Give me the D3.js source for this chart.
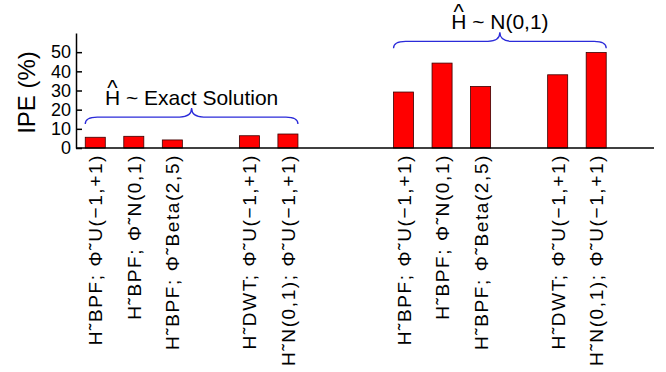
<!DOCTYPE html>
<html>
<head>
<meta charset="utf-8">
<script src="https://cdn.jsdelivr.net/npm/d3@7"></script>
<style>
  html, body { margin: 0; padding: 0; background: #fff; }
  svg { display: block; font-family: "Liberation Sans", Arial, Helvetica, sans-serif; }
</style>
</head>
<body>
<svg id="chart" width="666" height="372"></svg>
<script>
// Category slots along the x axis (empty strings are spacer slots)
const categories = [
  "H˜BPF; Φ˜U(−1,+1)", "H˜BPF; Φ˜N(0,1)", "H˜BPF; Φ˜Beta(2,5)", "",
  "H˜DWT; Φ˜U(−1,+1)", "H˜N(0,1); Φ˜U(−1,+1)", "", "",
  "H˜BPF; Φ˜U(−1,+1)", "H˜BPF; Φ˜N(0,1)", "H˜BPF; Φ˜Beta(2,5)", "",
  "H˜DWT; Φ˜U(−1,+1)", "H˜N(0,1); Φ˜U(−1,+1)", ""
];
// IPE (%) per slot; null for spacer slots
const ipeValues = [5.6, 6.1, 4.2, null, 6.4, 7.3, null, null, 29.2, 44.3, 32.1, null, 38.2, 49.8, null];
const yTicks = [0, 10, 20, 30, 40, 50];
// Group annotations: first and last slot covered, brace end level (in %), label
const groupNames = ["Exact Solution", "N(0,1)"];
const groupFirst = [0, 8];
const groupLast = [5, 13];
const groupLevel = [12.5, 52];

const svg = d3.select("#chart");
const margin = { left: 76, top: 33, right: 12, bottom: 224 };
const W = 666, H = 372;
const x0 = margin.left, x1 = W - margin.right;
const yBase = H - margin.bottom;

const x = d3.scaleBand().domain(d3.range(categories.length)).range([x0, x1]).paddingInner(0.48).paddingOuter(0.24);
const y = d3.scaleLinear().domain([0, 60]).range([yBase, margin.top]);

// Bars
svg.append("g").selectAll("rect")
  .data(ipeValues.map((v, i) => ({ v, i })).filter(d => d.v !== null))
  .join("rect")
  .attr("x", d => x(d.i))
  .attr("y", d => y(d.v))
  .attr("width", x.bandwidth())
  .attr("height", d => y(0) - y(d.v))
  .attr("fill", "#ff0000")
  .attr("stroke", "#3a0000")
  .attr("stroke-width", 0.8);

// Y axis with inward ticks
const yAxis = svg.append("g")
  .attr("transform", `translate(${x0},0)`)
  .call(d3.axisLeft(y).tickValues(yTicks).tickSizeInner(-6).tickSizeOuter(0).tickPadding(5));
yAxis.select(".domain").attr("stroke", "#000").attr("stroke-width", 1.5);
yAxis.selectAll(".tick line").attr("stroke", "#000").attr("stroke-width", 1.5);
yAxis.selectAll(".tick text").attr("font-size", 18).attr("fill", "#000")
  .attr("font-family", "'Liberation Sans', Arial, sans-serif");

// X axis with rotated category labels
const xAxis = svg.append("g")
  .attr("transform", `translate(0,${yBase})`)
  .call(d3.axisBottom(x).tickSize(0).tickSizeOuter(0).tickFormat(i => categories[i]));
xAxis.select(".domain").attr("stroke", "#000").attr("stroke-width", 1.5)
  .attr("d", `M${x0},0H${x1}`);
xAxis.selectAll(".tick text")
  .attr("font-size", 19).attr("fill", "#000")
  .attr("letter-spacing", 1.6)
  .attr("font-family", "'Liberation Sans', Arial, sans-serif")
  .attr("transform", "rotate(-90)")
  .attr("text-anchor", "end")
  .attr("x", -6).attr("y", 0).attr("dy", "0.37em");

// Y axis title
svg.append("text")
  .attr("transform", `translate(35,${(margin.top + yBase) / 2 + 2}) rotate(-90)`)
  .attr("text-anchor", "middle")
  .attr("font-size", 24)
  .text("IPE (%)");

// Curly brace path between xa and xb; ends at yEnd, straight run at yEnd-7, tip at yEnd-16
function bracePath(xa, xb, yEnd) {
  const yl = yEnd - 7, yt = yEnd - 16, xm = (xa + xb) / 2, q = 12;
  return `M${xa},${yEnd}Q${xa},${yl} ${xa + q},${yl}L${xm - q},${yl}Q${xm},${yl} ${xm},${yt}` +
         `Q${xm},${yl} ${xm + q},${yl}L${xb - q},${yl}Q${xb},${yl} ${xb},${yEnd}`;
}

const annFont = 21;
groupNames.forEach((name, g) => {
  const xa = x(groupFirst[g]);
  const xb = x(groupLast[g]) + x.bandwidth();
  const yEnd = y(groupLevel[g]);
  svg.append("path")
    .attr("d", bracePath(xa, xb, yEnd))
    .attr("fill", "none")
    .attr("stroke", "#2b2bd9")
    .attr("stroke-width", 1.3);
  const baseY = yEnd - 19;
  const t = svg.append("text")
    .attr("font-size", annFont);
  t.append("tspan")
    .attr("x", (xa + xb) / 2)
    .attr("y", baseY)
    .attr("text-anchor", "middle")
    .text("H ~ " + name);
  // hat over the estimator H, as its own chunk of the same label
  const ext = t.node().getExtentOfChar(0);
  const capTop = baseY - 0.716 * annFont;
  t.append("tspan")
    .attr("x", ext.x + ext.width / 2)
    .attr("y", capTop + 5)
    .attr("text-anchor", "middle")
    .attr("font-size", 22)
    .text("^");
});
</script>
</body>
</html>
